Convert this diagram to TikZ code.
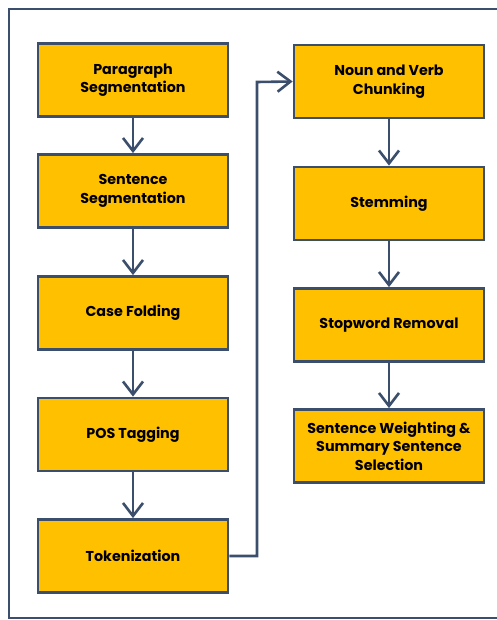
\documentclass[tikz,border=0pt]{standalone}
\usepackage{fontspec}
\setmainfont{Poppins}
\usetikzlibrary{arrows.meta}
\definecolor{boxfill}{HTML}{FFC000}
\definecolor{edge}{HTML}{3B4E6B}
\begin{document}
\begin{tikzpicture}[x=1pt,y=-1pt,
  stepbox/.style={draw=edge, line width=2.8pt, fill=boxfill, minimum width=190pt, minimum height=73pt, inner sep=0pt, align=center, font=\fontsize{14.3}{18.5}\selectfont\bfseries, text=black},
  flow/.style={draw=edge, line width=2.6pt, -{Straight Barb[length=13pt,width=20pt,line width=2.6pt]}}]
\useasboundingbox (0,0) rectangle (497,620);
\draw[edge, line width=2.2pt] (9,9) rectangle (530,618);
\node[stepbox] (p) at (133,80) {Paragraph\\Segmentation};
\node[stepbox] (s) at (133,191) {Sentence\\Segmentation};
\node[stepbox] (c) at (133,313) {Case Folding};
\node[stepbox] (t) at (133,434.5) {POS Tagging};
\node[stepbox] (k) at (133,556) {Tokenization};
\node[stepbox] (n) at (389,81.5) {Noun and Verb\\Chunking};
\node[stepbox] (m) at (389,203.5) {Stemming};
\node[stepbox] (r) at (389,325) {Stopword Removal};
\node[stepbox] (w) at (389,446) {Sentence Weighting \&\\Summary Sentence\\Selection};
\coordinate (b1) at (257,556);
\coordinate (b2) at (257,82);
\draw[flow] (p) -- (s);
\draw[flow] (s) -- (c);
\draw[flow] (c) -- (t);
\draw[flow] (t) -- (k);
\draw[flow] (k.east) -- (b1) -- (b2) -- (n.west);
\draw[flow] (n) -- (m);
\draw[flow] (m) -- (r);
\draw[flow] (r) -- (w);
\end{tikzpicture}
\end{document}
